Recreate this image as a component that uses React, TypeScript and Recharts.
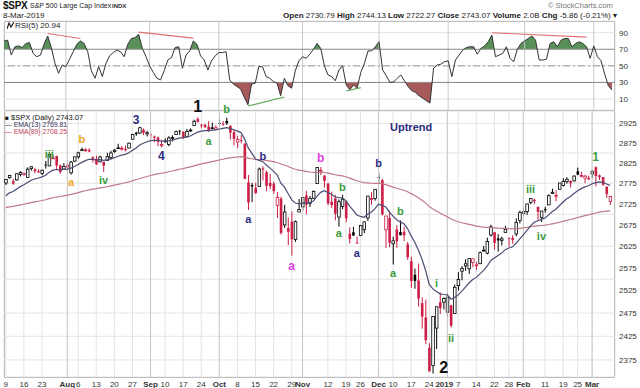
import React from 'react';
import {
  ComposedChart,
  Bar,
  Line,
  Area,
  XAxis,
  YAxis,
  CartesianGrid,
  ReferenceLine,
  ReferenceDot,
} from 'recharts';

const FONT = '"Liberation Sans", Arial, sans-serif';
const RED = '#cc1f45';
const GREEN = '#3c9c3c';
const NAVY = '#2b2b80';
const ORANGE = '#f2a52a';
const MAGENTA = '#de3ede';
const BLACK = '#111';

// trading days shown on the chart
const dates = [
  '2018-07-09', '2018-07-10', '2018-07-11', '2018-07-12', '2018-07-13', '2018-07-16', '2018-07-17', '2018-07-18', '2018-07-19', '2018-07-20', '2018-07-23', '2018-07-24', '2018-07-25', '2018-07-26', '2018-07-27', '2018-07-30', '2018-07-31',
  '2018-08-01', '2018-08-02', '2018-08-03', '2018-08-06', '2018-08-07', '2018-08-08', '2018-08-09', '2018-08-10', '2018-08-13', '2018-08-14', '2018-08-15', '2018-08-16', '2018-08-17', '2018-08-20', '2018-08-21', '2018-08-22', '2018-08-23', '2018-08-24', '2018-08-27', '2018-08-28', '2018-08-29', '2018-08-30', '2018-08-31',
  '2018-09-04', '2018-09-05', '2018-09-06', '2018-09-07', '2018-09-10', '2018-09-11', '2018-09-12', '2018-09-13', '2018-09-14', '2018-09-17', '2018-09-18', '2018-09-19', '2018-09-20', '2018-09-21', '2018-09-24', '2018-09-25', '2018-09-26', '2018-09-27', '2018-09-28',
  '2018-10-01', '2018-10-02', '2018-10-03', '2018-10-04', '2018-10-05', '2018-10-08', '2018-10-09', '2018-10-10', '2018-10-11', '2018-10-12', '2018-10-15', '2018-10-16', '2018-10-17', '2018-10-18', '2018-10-19', '2018-10-22', '2018-10-23', '2018-10-24', '2018-10-25', '2018-10-26', '2018-10-29', '2018-10-30', '2018-10-31',
  '2018-11-01', '2018-11-02', '2018-11-05', '2018-11-06', '2018-11-07', '2018-11-08', '2018-11-09', '2018-11-12', '2018-11-13', '2018-11-14', '2018-11-15', '2018-11-16', '2018-11-19', '2018-11-20', '2018-11-21', '2018-11-23', '2018-11-26', '2018-11-27', '2018-11-28', '2018-11-29', '2018-11-30',
  '2018-12-03', '2018-12-04', '2018-12-06', '2018-12-07', '2018-12-10', '2018-12-11', '2018-12-12', '2018-12-13', '2018-12-14', '2018-12-17', '2018-12-18', '2018-12-19', '2018-12-20', '2018-12-21', '2018-12-24', '2018-12-26', '2018-12-27', '2018-12-28', '2018-12-31',
  '2019-01-02', '2019-01-03', '2019-01-04', '2019-01-07', '2019-01-08', '2019-01-09', '2019-01-10', '2019-01-11', '2019-01-14', '2019-01-15', '2019-01-16', '2019-01-17', '2019-01-18', '2019-01-22', '2019-01-23', '2019-01-24', '2019-01-25', '2019-01-28', '2019-01-29', '2019-01-30', '2019-01-31',
  '2019-02-01', '2019-02-04', '2019-02-05', '2019-02-06', '2019-02-07', '2019-02-08', '2019-02-11', '2019-02-12', '2019-02-13', '2019-02-14', '2019-02-15', '2019-02-19', '2019-02-20', '2019-02-21', '2019-02-22', '2019-02-25', '2019-02-26', '2019-02-27', '2019-02-28',
  '2019-03-01', '2019-03-04', '2019-03-05', '2019-03-06', '2019-03-07', '2019-03-08',
];

const opens = [
  2775.62, 2788.56, 2779.82, 2783.14, 2796.93, 2797.36, 2789.34, 2811.35, 2809.37, 2804.55, 2799.17, 2820.68, 2817.73, 2835.49, 2842.35, 2819.0, 2809.73,
  2821.17, 2800.48, 2829.62, 2840.29, 2855.92, 2856.79, 2857.19, 2838.9, 2835.46, 2827.88, 2827.95, 2831.44, 2838.32, 2853.93, 2861.51, 2860.99, 2860.29, 2862.35, 2884.69, 2901.45, 2900.62, 2908.94, 2898.37,
  2896.96, 2891.59, 2888.64, 2868.26, 2881.39, 2871.57, 2888.29, 2896.85, 2906.38, 2903.83, 2890.74, 2906.6, 2919.73, 2936.76, 2921.83, 2921.75, 2916.98, 2911.65, 2910.03,
  2926.29, 2923.8, 2931.69, 2919.35, 2902.54, 2877.53, 2882.51, 2873.9, 2776.87, 2770.54, 2763.83, 2767.05, 2811.67, 2802.0, 2775.66, 2773.94, 2721.03, 2737.87, 2674.88, 2667.86, 2682.65, 2640.68, 2705.6,
  2717.58, 2745.45, 2726.37, 2738.4, 2774.13, 2806.38, 2794.1, 2773.93, 2730.05, 2737.9, 2693.52, 2718.54, 2730.74, 2654.6, 2657.74, 2633.36, 2649.97, 2663.75, 2691.45, 2736.97, 2737.76,
  2790.5, 2782.43, 2663.51, 2691.26, 2630.86, 2664.44, 2658.23, 2658.7, 2629.68, 2590.75, 2559.9, 2547.05, 2496.77, 2465.38, 2400.56, 2363.12, 2442.5, 2498.77, 2498.94,
  2476.96, 2491.92, 2474.33, 2535.61, 2568.11, 2580.0, 2573.51, 2588.11, 2580.31, 2585.1, 2614.75, 2609.28, 2651.27, 2657.88, 2643.48, 2638.84, 2657.44, 2644.97, 2644.89, 2653.62, 2685.49,
  2702.32, 2706.49, 2728.34, 2735.05, 2717.53, 2692.36, 2712.4, 2722.61, 2750.3, 2743.5, 2760.24, 2769.28, 2779.05, 2780.67, 2780.67, 2804.35, 2792.36, 2787.5, 2788.11,
  2798.22, 2814.37, 2794.41, 2790.27, 2766.53, 2730.79,
];

const highs = [
  2784.65, 2795.58, 2785.91, 2799.22, 2804.53, 2801.19, 2814.19, 2816.76, 2812.05, 2809.7, 2808.61, 2829.99, 2848.03, 2845.57, 2843.17, 2821.74, 2824.46,
  2825.83, 2829.91, 2840.38, 2853.29, 2863.43, 2862.44, 2862.48, 2842.2, 2843.4, 2843.11, 2827.95, 2850.49, 2855.63, 2859.76, 2873.23, 2867.54, 2868.78, 2876.16, 2898.25, 2903.77, 2916.5, 2912.46, 2906.32,
  2900.18, 2894.21, 2892.05, 2883.81, 2886.93, 2892.52, 2894.65, 2906.76, 2908.3, 2904.65, 2911.17, 2912.36, 2934.8, 2940.91, 2923.79, 2923.95, 2931.15, 2927.22, 2920.53,
  2937.06, 2931.42, 2939.86, 2919.78, 2909.64, 2893.53, 2894.83, 2874.02, 2795.14, 2775.77, 2775.99, 2813.46, 2816.94, 2806.04, 2797.77, 2778.94, 2753.59, 2742.59, 2722.7, 2692.38, 2706.85, 2685.43, 2736.69,
  2741.67, 2756.55, 2744.27, 2756.82, 2815.15, 2814.75, 2794.1, 2775.99, 2754.6, 2746.8, 2735.38, 2746.75, 2733.16, 2669.44, 2670.73, 2647.55, 2674.35, 2682.53, 2744.0, 2753.75, 2760.88,
  2800.18, 2785.93, 2696.15, 2708.54, 2647.51, 2674.35, 2685.44, 2670.19, 2635.07, 2601.13, 2573.99, 2585.29, 2509.63, 2504.41, 2410.34, 2467.76, 2489.1, 2520.27, 2509.24,
  2519.49, 2493.14, 2538.07, 2566.16, 2579.82, 2595.32, 2597.82, 2596.27, 2589.32, 2613.08, 2625.76, 2645.06, 2675.47, 2657.88, 2653.19, 2647.2, 2672.38, 2644.97, 2650.93, 2690.44, 2708.95,
  2716.66, 2724.99, 2738.98, 2738.08, 2719.32, 2708.07, 2718.05, 2748.19, 2761.85, 2757.9, 2775.66, 2787.33, 2789.88, 2781.58, 2794.2, 2813.49, 2803.12, 2795.76, 2793.73,
  2808.02, 2816.88, 2796.44, 2790.27, 2767.25, 2744.13,
];

const lows = [
  2770.73, 2786.24, 2770.77, 2781.53, 2791.69, 2793.39, 2789.24, 2805.89, 2799.77, 2800.01, 2795.14, 2811.12, 2817.73, 2835.26, 2808.34, 2798.11, 2808.06,
  2805.85, 2796.34, 2827.37, 2835.98, 2855.92, 2853.09, 2851.98, 2825.81, 2819.88, 2826.58, 2802.49, 2831.44, 2833.73, 2850.62, 2861.32, 2856.05, 2854.03, 2862.35, 2884.69, 2893.5, 2898.4, 2895.22, 2891.73,
  2885.13, 2876.92, 2867.29, 2864.12, 2875.94, 2866.78, 2879.2, 2896.39, 2895.77, 2886.16, 2890.43, 2903.82, 2919.73, 2927.11, 2912.63, 2913.7, 2903.28, 2909.27, 2907.5,
  2917.91, 2919.37, 2921.36, 2883.92, 2869.29, 2862.08, 2874.27, 2784.86, 2710.51, 2729.44, 2749.03, 2766.91, 2781.81, 2755.18, 2760.27, 2749.22, 2691.43, 2651.89, 2667.84, 2628.16, 2603.54, 2635.34, 2705.6,
  2708.85, 2700.44, 2717.94, 2737.08, 2774.13, 2794.99, 2764.24, 2722.0, 2714.98, 2685.75, 2670.75, 2712.16, 2681.09, 2631.52, 2649.82, 2631.09, 2649.97, 2655.89, 2684.38, 2722.94, 2732.76,
  2773.38, 2697.18, 2621.53, 2623.14, 2583.23, 2621.3, 2650.26, 2637.27, 2593.84, 2530.54, 2528.71, 2488.96, 2441.18, 2408.55, 2351.1, 2346.58, 2397.94, 2472.89, 2482.82,
  2467.47, 2443.96, 2474.33, 2524.56, 2547.56, 2568.89, 2562.02, 2577.4, 2570.41, 2585.1, 2612.68, 2606.36, 2647.58, 2617.27, 2612.86, 2627.01, 2657.33, 2624.06, 2631.05, 2648.34, 2678.65,
  2696.88, 2698.75, 2724.03, 2724.15, 2687.26, 2681.83, 2703.79, 2722.61, 2748.63, 2731.23, 2760.24, 2767.29, 2774.06, 2764.55, 2779.11, 2794.99, 2789.47, 2775.13, 2782.51,
  2787.38, 2767.66, 2782.97, 2768.69, 2739.09, 2722.27,
];

const closes = [
  2784.17, 2793.84, 2774.02, 2798.29, 2801.31, 2798.43, 2809.55, 2815.62, 2804.49, 2801.83, 2806.98, 2820.4, 2846.07, 2837.44, 2818.82, 2802.6, 2816.29,
  2813.36, 2827.22, 2840.35, 2850.4, 2858.45, 2857.7, 2853.58, 2833.28, 2821.93, 2839.96, 2818.37, 2840.69, 2850.13, 2857.05, 2862.96, 2861.82, 2856.98, 2874.69, 2896.74, 2897.52, 2914.04, 2901.13, 2901.52,
  2896.72, 2888.6, 2878.05, 2871.68, 2877.13, 2887.89, 2888.92, 2904.18, 2904.98, 2888.8, 2904.31, 2907.95, 2930.75, 2929.67, 2919.37, 2915.56, 2905.97, 2914.0, 2913.98,
  2924.59, 2923.43, 2925.51, 2901.61, 2885.57, 2884.43, 2880.34, 2785.68, 2728.37, 2767.13, 2750.79, 2809.92, 2809.21, 2768.78, 2767.78, 2755.88, 2740.69, 2656.1, 2705.57, 2658.69, 2641.25, 2682.63, 2711.74,
  2740.37, 2723.06, 2738.31, 2755.45, 2813.89, 2806.83, 2781.01, 2726.22, 2722.18, 2701.58, 2730.2, 2736.27, 2690.73, 2641.89, 2649.93, 2632.56, 2673.45, 2682.17, 2743.79, 2737.8, 2760.17,
  2790.37, 2700.06, 2695.95, 2633.08, 2637.72, 2636.78, 2651.07, 2650.54, 2599.95, 2545.94, 2546.16, 2506.96, 2467.42, 2416.62, 2351.1, 2467.7, 2488.83, 2485.74, 2506.85,
  2510.03, 2447.89, 2531.94, 2549.69, 2574.41, 2584.96, 2596.64, 2596.26, 2582.61, 2610.3, 2616.1, 2635.96, 2670.71, 2632.9, 2638.7, 2642.33, 2664.76, 2643.85, 2640.0, 2681.05, 2704.1,
  2706.53, 2724.87, 2737.7, 2731.61, 2706.05, 2707.88, 2709.8, 2744.73, 2753.03, 2745.73, 2775.6, 2779.76, 2784.7, 2774.88, 2792.67, 2796.11, 2793.9, 2792.38, 2784.49,
  2803.69, 2792.81, 2789.65, 2771.45, 2748.93, 2743.07,
];

const closeBefore = 2759.82;

const ema13 = [
  2744.6, 2751.6, 2754.8, 2761.0, 2766.8, 2771.3, 2776.8, 2782.3, 2785.5, 2787.8, 2790.6, 2794.8, 2802.1, 2807.2, 2808.8, 2808.0, 2809.1,
  2809.7, 2812.2, 2816.3, 2821.1, 2826.5, 2830.9, 2834.2, 2834.0, 2832.3, 2833.4, 2831.3, 2832.6, 2835.1, 2838.2, 2841.8, 2844.6, 2846.4, 2850.4, 2857.1, 2862.8, 2870.2, 2874.6, 2878.4,
  2881.0, 2882.1, 2881.5, 2880.1, 2879.7, 2880.9, 2882.0, 2885.2, 2888.0, 2888.1, 2890.4, 2892.9, 2898.3, 2902.8, 2905.2, 2906.7, 2906.6, 2907.6, 2908.5,
  2910.8, 2912.6, 2914.5, 2912.6, 2908.8, 2905.3, 2901.7, 2885.1, 2862.7, 2849.1, 2835.0, 2831.5, 2828.3, 2819.8, 2812.3, 2804.3, 2795.2, 2775.3, 2765.4, 2750.1, 2734.6, 2727.2, 2725.0,
  2727.2, 2726.6, 2728.3, 2732.1, 2743.8, 2752.8, 2756.9, 2752.5, 2748.1, 2741.5, 2739.9, 2739.4, 2732.4, 2719.5, 2709.5, 2698.5, 2695.0, 2693.1, 2700.4, 2705.7, 2713.5,
  2724.5, 2721.0, 2717.4, 2705.4, 2695.7, 2687.3, 2682.1, 2677.6, 2666.5, 2649.3, 2634.6, 2616.3, 2595.1, 2569.6, 2538.4, 2528.3, 2522.6, 2517.4, 2515.9,
  2515.0, 2505.5, 2509.2, 2515.0, 2523.5, 2532.3, 2541.5, 2549.3, 2554.1, 2562.1, 2569.8, 2579.3, 2592.3, 2598.1, 2603.9, 2609.4, 2617.3, 2621.1, 2623.8, 2632.0, 2642.3,
  2651.5, 2662.0, 2672.8, 2681.2, 2684.7, 2688.0, 2691.2, 2698.8, 2706.6, 2712.2, 2721.2, 2729.6, 2737.5, 2742.8, 2749.9, 2756.5, 2761.9, 2766.2, 2768.8,
  2773.8, 2776.5, 2778.4, 2777.4, 2773.3, 2769.8,
];

const ema89 = [
  2716.0, 2717.7, 2719.0, 2720.7, 2722.5, 2724.2, 2726.1, 2728.1, 2729.8, 2731.4, 2733.1, 2735.0, 2737.5, 2739.7, 2741.5, 2742.8, 2744.5,
  2746.0, 2747.8, 2749.9, 2752.1, 2754.5, 2756.7, 2758.9, 2760.5, 2761.9, 2763.6, 2764.9, 2766.5, 2768.4, 2770.4, 2772.4, 2774.4, 2776.3, 2778.4, 2781.1, 2783.7, 2786.6, 2789.1, 2791.6,
  2794.0, 2796.1, 2797.9, 2799.5, 2801.2, 2803.2, 2805.1, 2807.3, 2809.4, 2811.2, 2813.3, 2815.4, 2817.9, 2820.4, 2822.6, 2824.7, 2826.5, 2828.4, 2830.3,
  2832.4, 2834.4, 2836.5, 2837.9, 2839.0, 2840.0, 2840.9, 2839.7, 2837.2, 2835.6, 2833.7, 2833.2, 2832.7, 2831.3, 2829.8, 2828.2, 2826.3, 2822.5, 2819.9, 2816.3, 2812.4, 2809.5, 2807.4,
  2805.9, 2804.0, 2802.6, 2801.5, 2801.8, 2801.9, 2801.4, 2799.8, 2798.1, 2795.9, 2794.5, 2793.2, 2790.9, 2787.6, 2784.5, 2781.1, 2778.7, 2776.6, 2775.9, 2775.0, 2774.7,
  2775.0, 2773.4, 2771.6, 2768.6, 2765.7, 2762.8, 2760.3, 2757.9, 2754.4, 2749.7, 2745.2, 2739.9, 2733.9, 2726.8, 2718.5, 2712.9, 2707.9, 2703.0, 2698.6,
  2694.4, 2688.9, 2685.5, 2682.4, 2680.0, 2677.9, 2676.1, 2674.3, 2672.3, 2670.9, 2669.7, 2669.0, 2669.0, 2668.2, 2667.5, 2667.0, 2666.9, 2666.4, 2665.8, 2666.2, 2667.0,
  2667.9, 2669.2, 2670.7, 2672.0, 2672.8, 2673.6, 2674.4, 2675.9, 2677.6, 2679.2, 2681.3, 2683.5, 2685.7, 2687.7, 2690.0, 2692.4, 2694.7, 2696.8, 2698.8,
  2701.1, 2703.2, 2705.1, 2706.6, 2707.5, 2708.25,
];

const rsi5 = [
  80, 81, 63, 73, 74, 72, 77, 78, 65, 61, 63, 76, 86, 72, 53, 41, 51,
  49, 58, 67, 76, 80, 77, 67, 44, 35, 49, 37, 53, 62, 66, 69, 67, 61, 76, 83, 84, 88, 71, 61,
  50, 42, 35, 33, 44, 57, 60, 72, 73, 47, 63, 68, 80, 76, 62, 57, 45, 56, 62,
  66, 66, 67, 33, 28, 25, 22, 12, 3, 28, 29, 49, 49, 37, 35, 31, 29, 14, 35, 26, 23, 44, 56,
  61, 59, 64, 70, 77, 71, 50, 39, 37, 32, 45, 50, 27, 21, 27, 23, 42, 53, 68, 68, 73,
  79, 45, 38, 30, 30.5, 35, 39, 32, 25, 20, 18, 14, 11, 8, 5, 47, 51, 52, 55,
  56, 37, 57, 63, 69, 72, 73, 73, 64, 71, 74, 79, 87, 61, 63, 65, 73, 59, 55, 70, 77,
  80, 83, 86, 81, 57, 57, 58, 77, 79, 73, 81, 83, 83, 73, 77, 79, 77, 73, 59,
  74, 61, 56, 40, 26, 20.94,
];

const tickDates = [
  '2018-07-09', '2018-07-16', '2018-07-23', '2018-08-01', '2018-08-06', '2018-08-13', '2018-08-20', '2018-08-27',
  '2018-09-04', '2018-09-10', '2018-09-17', '2018-09-24', '2018-10-01', '2018-10-08', '2018-10-15', '2018-10-22',
  '2018-10-29', '2018-11-01', '2018-11-12', '2018-11-19', '2018-11-26', '2018-12-03', '2018-12-10', '2018-12-17',
  '2018-12-24', '2019-01-02', '2019-01-07', '2019-01-14', '2019-01-22', '2019-01-28', '2019-02-01', '2019-02-11',
  '2019-02-19', '2019-02-25', '2019-03-01',
];
const tickLabels = [
  '9', '16', '23', 'Aug', '6', '13', '20', '27',
  'Sep', '10', '17', '24', 'Oct', '8', '15', '22',
  '29', 'Nov', '12', '19', '26', 'Dec', '10', '17',
  '24', '2019', '7', '14', '22', '28', 'Feb', '11',
  '19', '25', 'Mar',
];
const monthDates = ['2018-08-01', '2018-09-04', '2018-10-01', '2018-11-01', '2018-12-03', '2019-01-02', '2019-02-01', '2019-03-01'];

const priceTicks = [2350, 2375, 2400, 2425, 2450, 2475, 2500, 2525, 2550, 2575, 2600, 2625, 2650, 2675, 2700, 2725, 2750, 2775, 2800, 2825, 2850, 2875, 2900, 2925];
const rsiTicks = [10, 30, 50, 70, 90];

// wave labels written on the price panel
const annDates = ['2018-07-25', '2018-08-02', '2018-08-07', '2018-08-15', '2018-08-28', '2018-09-07', '2018-09-21', '2018-09-26', '2018-10-03', '2018-10-11', '2018-10-17', '2018-10-29', '2018-11-08', '2018-11-15', '2018-11-16', '2018-11-23', '2018-12-03', '2018-12-10', '2018-12-12', '2018-12-17', '2018-12-27', '2018-12-31', '2019-01-03', '2019-02-05', '2019-02-08', '2019-03-04'];
const annPrices = [2847, 2777, 2885, 2782, 2933, 2842, 2970, 2880, 2962, 2688, 2842, 2581, 2837, 2655, 2767, 2609, 2824, 2565, 2708, 2915, 2541, 2360, 2422, 2760, 2650, 2839];
const annTexts = ['iii', 'a', 'b', 'iv', '3', '4', '1', 'a', 'b', 'a', 'b', 'a', 'b', 'a', 'b', 'a', 'b', 'a', 'b', 'Uptrend', 'i', '2', 'ii', 'iii', 'iv', '1'];
const annColors = [GREEN, ORANGE, ORANGE, GREEN, NAVY, NAVY, BLACK, GREEN, GREEN, NAVY, NAVY, MAGENTA, MAGENTA, GREEN, GREEN, NAVY, NAVY, GREEN, GREEN, NAVY, GREEN, BLACK, GREEN, GREEN, GREEN, GREEN];
const annSizes = [11, 11, 11, 11, 12, 12, 16, 11, 11, 11, 11, 12, 12, 11, 11, 11, 11, 11, 11, 11, 11, 16, 11, 11, 11, 12];

// divergence lines on the RSI panel
const trendFrom = ['2018-07-25', '2018-08-29', '2018-10-11', '2018-11-19', '2019-01-18'];
const trendFromVal = [89, 90.7, 1.5, 19.6, 89.9];
const trendTo = ['2018-08-07', '2018-09-20', '2018-10-25', '2018-11-26', '2019-02-27'];
const trendToVal = [83, 83.5, 12.4, 23.6, 84.7];
const trendColors = ['#e07070', '#e07070', '#5aaa5a', '#5aaa5a', '#e07070'];

const rows = dates.map((date, i) => ({
  date,
  open: opens[i],
  high: highs[i],
  low: lows[i],
  close: closes[i],
  prev: i === 0 ? closeBefore : closes[i - 1],
  range: [lows[i], highs[i]],
  ema13: ema13[i],
  ema89: ema89[i],
  rsi: rsi5[i],
}));

// layout
const W = 640;
const LEFT = 4;
const AXIS_W = 25;
const RSI_TOP = 20;
const RSI_H = 90;
const RSI_MIN = -3.3;
const RSI_MAX = 104.1;
const PRICE_TOP = 90;
const PRICE_H = 298;
const PRICE_MIN = 2339.5;
const PRICE_MAX = 2957.4;

const rsiPlotH = RSI_H - 1;
const rsiY = (v: number) => 1 + ((RSI_MAX - v) / (RSI_MAX - RSI_MIN)) * rsiPlotH;
const off70 = rsiY(70) / RSI_H;
const off30 = rsiY(30) / RSI_H;

const Candle = (props: any) => {
  let { x, y, width, height } = props;
  const { open, close, high, low, prev } = props.payload;
  if (height < 0) {
    y += height;
    height = -height;
  }
  const lnH = Math.log(high);
  const span = lnH - Math.log(low) || 1;
  const py = (p: number) => y + (height * (lnH - Math.log(p))) / span;
  const color = close < prev ? RED : '#000';
  const cx = x + width / 2;
  const top = py(Math.max(open, close));
  const bot = py(Math.min(open, close));
  const hollow = close >= open;
  const bw = 2.6;
  return (
    <g>
      <line x1={cx} x2={cx} y1={y} y2={y + height} stroke={color} strokeWidth={1} />
      <rect
        x={cx - bw / 2}
        y={top}
        width={bw}
        height={Math.max(bot - top, 0.8)}
        fill={hollow ? '#fff' : color}
        stroke={color}
        strokeWidth={hollow ? 0.8 : 0}
      />
    </g>
  );
};

const DateTick = (props: any) => {
  const { x, y, payload } = props;
  const label = tickLabels[tickDates.indexOf(payload.value)] ?? '';
  const bold = isNaN(Number(label)) || label === '2019';
  return (
    <text
      x={label === '2019' ? x - 3 : x}
      y={y + 8}
      textAnchor="middle"
      fontSize={8}
      fontWeight={bold ? 700 : 400}
      fill="#333"
      fontFamily={FONT}
    >
      {label}
    </text>
  );
};

const annShape = (text: string, color: string, size: number) => (p: any) => (
  <text
    x={p.cx}
    y={p.cy}
    textAnchor="middle"
    dominantBaseline="central"
    fill={color}
    fontSize={size}
    fontWeight={700}
    fontFamily={FONT}
  >
    {text}
  </text>
);

const abs = (left: number, top: number, extra: React.CSSProperties = {}): React.CSSProperties => ({
  position: 'absolute',
  left,
  top,
  fontFamily: FONT,
  whiteSpace: 'nowrap',
  lineHeight: 1,
  ...extra,
});

const App: React.FC = () => {
  return (
    <div style={{ position: 'absolute', left: 0, top: 0, width: W, height: 388, background: '#fff', overflow: 'hidden' }}>
      {/* header */}
      <div style={abs(3, 1, { fontSize: 10, fontWeight: 700, color: '#111', letterSpacing: -0.3 })}>$SPX</div>
      <div style={abs(30, 2, { fontSize: 7, color: '#222' })}>S&amp;P 500 Large Cap Index</div>
      <div style={abs(112, 3, { fontSize: 6, fontWeight: 700, color: '#333' })}>INDX</div>
      <div style={abs(3, 12, { fontSize: 8, color: '#222' })}>8-Mar-2019</div>
      <div style={abs(548, 2, { fontSize: 7.5, color: '#777' })}>© StockCharts.com</div>
      <div style={{ ...abs(0, 12, { fontSize: 8, color: '#222' }), left: 'auto', right: 23 }}>
        <b>Open</b> 2730.79 <b>High</b> 2744.13 <b>Low</b> 2722.27 <b>Close</b> 2743.07 <b>Volume</b> 2.0B{' '}
        <b>Chg</b> -5.86 (-0.21%) ▾
      </div>

      {/* panel frames */}
      <div style={{ position: 'absolute', left: LEFT, top: 21, width: W - LEFT - AXIS_W, height: 90, border: '1px solid #999', boxSizing: 'border-box' }} />
      <div style={{ position: 'absolute', left: LEFT, top: 110, width: W - LEFT - AXIS_W, height: 268, border: '1px solid #999', boxSizing: 'border-box' }} />

      {/* RSI panel */}
      <div style={{ position: 'absolute', left: 0, top: RSI_TOP }}>
        <ComposedChart width={W} height={RSI_H} data={rows} margin={{ top: 1, right: 0, bottom: 0, left: LEFT }}>
          <defs>
            <linearGradient id="rsiOver" gradientUnits="userSpaceOnUse" x1={0} y1={0} x2={0} y2={RSI_H}>
              <stop offset={0} stopColor="#5a915a" />
              <stop offset={off70} stopColor="#5a915a" />
              <stop offset={off70} stopColor="#5a915a" stopOpacity={0} />
              <stop offset={1} stopColor="#5a915a" stopOpacity={0} />
            </linearGradient>
            <linearGradient id="rsiUnder" gradientUnits="userSpaceOnUse" x1={0} y1={0} x2={0} y2={RSI_H}>
              <stop offset={0} stopColor="#a85a5a" stopOpacity={0} />
              <stop offset={off30} stopColor="#a85a5a" stopOpacity={0} />
              <stop offset={off30} stopColor="#a85a5a" />
              <stop offset={1} stopColor="#a85a5a" />
            </linearGradient>
          </defs>
          <CartesianGrid stroke="#e4e4e4" />
          <XAxis
            dataKey="date"
            ticks={tickDates}
            interval={0}
            tick={false}
            axisLine={false}
            tickLine={false}
            height={0}
            padding={{ left: 0, right: 3 }}
          />
          <YAxis
            orientation="right"
            width={AXIS_W}
            domain={[RSI_MIN, RSI_MAX]}
            ticks={rsiTicks}
            allowDataOverflow
            axisLine={false}
            tickLine={false}
            tickSize={0}
            tickMargin={4}
            tick={{ fontSize: 8, fill: '#333', fontFamily: FONT }}
          />
          {monthDates.map((d) => (
            <ReferenceLine key={d} x={d} stroke="#c8c8c8" />
          ))}
          <ReferenceLine y={70} stroke="#8a8a8a" />
          <ReferenceLine y={30} stroke="#8a8a8a" />
          <ReferenceLine y={50} stroke="#999" strokeDasharray="7 3 2 3" />
          <Area dataKey="rsi" baseValue={70} stroke="none" fill="url(#rsiOver)" fillOpacity={1} isAnimationActive={false} />
          <Area dataKey="rsi" baseValue={30} stroke="none" fill="url(#rsiUnder)" fillOpacity={1} isAnimationActive={false} />
          <Line dataKey="rsi" stroke="#333" strokeWidth={1} dot={false} isAnimationActive={false} />
          {trendFrom.map((d, i) => (
            <ReferenceLine
              key={d}
              segment={[
                { x: d, y: trendFromVal[i] },
                { x: trendTo[i], y: trendToVal[i] },
              ]}
              stroke={trendColors[i]}
              strokeWidth={1.2}
            />
          ))}
        </ComposedChart>
      </div>
      <div style={abs(7, 22, { fontSize: 8, color: '#222' })}>
        <svg width={7} height={7} style={{ verticalAlign: -1, marginRight: 1 }}>
          <polyline points="0,7 2,1 4,5 7,0" fill="none" stroke="#222" strokeWidth={1.2} />
        </svg>
        RSI(5) 20.94
      </div>

      {/* price panel */}
      <div style={{ position: 'absolute', left: 0, top: PRICE_TOP }}>
        <ComposedChart width={W} height={PRICE_H} data={rows} margin={{ top: 21, right: 0, bottom: 0, left: LEFT }} barCategoryGap={0}>
          <CartesianGrid stroke="#e4e4e4" />
          <XAxis
            dataKey="date"
            ticks={tickDates}
            interval={0}
            tick={<DateTick />}
            axisLine={false}
            tickLine={false}
            tickSize={0}
            height={11}
            padding={{ left: 0, right: 3 }}
          />
          <YAxis
            orientation="right"
            width={AXIS_W}
            scale="log"
            domain={[PRICE_MIN, PRICE_MAX]}
            ticks={priceTicks}
            allowDataOverflow
            axisLine={false}
            tickLine={false}
            tickSize={0}
            tickMargin={4}
            tick={{ fontSize: 8, fill: '#333', fontFamily: FONT }}
          />
          {monthDates.map((d) => (
            <ReferenceLine key={d} x={d} stroke="#c8c8c8" />
          ))}
          <Line dataKey="ema89" stroke="#c07a86" strokeWidth={1.2} dot={false} isAnimationActive={false} />
          <Line dataKey="ema13" stroke="#4a4e74" strokeWidth={1.2} dot={false} isAnimationActive={false} />
          <Bar dataKey="range" shape={(p: any) => <Candle {...p} />} isAnimationActive={false} />
          {annDates.map((d, i) => (
            <ReferenceDot
              key={`${d}-${i}`}
              x={d}
              y={annPrices[i]}
              r={0}
              ifOverflow="visible"
              shape={annShape(annTexts[i], annColors[i], annSizes[i])}
            />
          ))}
        </ComposedChart>
      </div>

      {/* price legend */}
      <div style={abs(5, 113.5, { fontSize: 7.5, color: '#111' })}>
        <span style={{ fontSize: 6.5 }}>■</span> $SPX (Daily) 2743.07
      </div>
      <div style={abs(5, 121.5, { fontSize: 6.8, color: '#333355' })}>— EMA(13) 2769.81</div>
      <div style={abs(5, 129, { fontSize: 6.8, color: '#c0405a' })}>— EMA(89) 2708.25</div>
    </div>
  );
};

export default App;
